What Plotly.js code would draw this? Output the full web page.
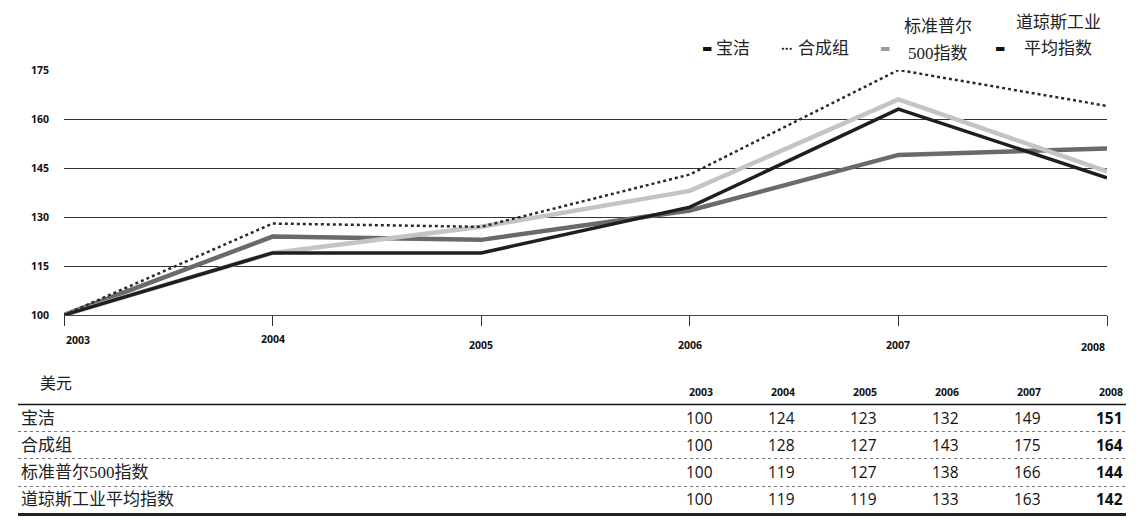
<!DOCTYPE html>
<html>
<head>
<meta charset="utf-8">
<script src="https://cdn.plot.ly/plotly-3.0.1.min.js"></script>
<style>
html,body{margin:0;padding:0;background:#fff;}
#chart{width:1141px;height:529px;}
</style>
</head>
<body>
<div id="chart"></div>
<script>
// ---- data ----
const years = [2003, 2004, 2005, 2006, 2007, 2008];
const pg = [100, 124, 123, 132, 149, 151];
const composite = [100, 128, 127, 143, 175, 164];
const sp500 = [100, 119, 127, 138, 166, 144];
const dow = [100, 119, 119, 133, 163, 142];
const seriesNames = ['宝洁', '合成组', '标准普尔500指数', '道琼斯工业平均指数'];
const legendLines = [['宝洁'], ['合成组'], ['标准普尔', '500指数'], ['道琼斯工业', '平均指数']];
const yTicks = [100, 115, 130, 145, 160, 175];
const unitLabel = '美元';

// ---- layout helpers (pixel -> paper) ----
const W = 1141, H = 529;
const L = 64, R = 1107, T = 70, B = 315;
const px = x => (x - L) / (R - L);
const py = y => (B - y) / (B - T);

const CJK = '"Liberation Serif", "Noto Sans CJK SC", serif';
const NUM = '"Open Sans", "Noto Sans", sans-serif';

const styles = [
  {color: '#6a6a6a', width: 4.5, dash: 'solid'},
  {color: '#2a2a2a', width: 2.5, dash: 'dot'},
  {color: '#c4c4c4', width: 4.5, dash: 'solid'},
  {color: '#1e1e1e', width: 3.5, dash: 'solid'}
];
const seriesData = [pg, composite, sp500, dow];
const drawOrder = [0, 2, 3, 1];

const traces = drawOrder.map(i => ({
  type: 'scatter', mode: 'lines', x: years, y: seriesData[i], name: seriesNames[i],
  line: {color: styles[i].color, width: styles[i].width, dash: styles[i].dash},
  showlegend: false, hoverinfo: 'skip'
}));

const annotations = [];
const shapes = [];

// x tick labels (staggered as in reference)
const xLabelY = [340, 339, 345, 345, 345, 347];
years.forEach((yr, i) => {
  annotations.push({
    x: yr, xref: 'x', y: py(xLabelY[i]), yref: 'paper',
    text: '<b>' + yr + '</b>', showarrow: false,
    xanchor: i === 0 ? 'left' : (i === years.length - 1 ? 'right' : 'center'),
    yanchor: 'middle', font: {family: NUM, size: 10.5, color: '#111'}
  });
});

// legend (text annotations)
const legX = [700, 779, 878, 993];
const legSw = ['▬', '<b>•••</b>', '▬', '▬'];
const legSwColor = ['#111', '#111', '#999', '#111'];
const legSwSize = [11, 6, 11, 11];
legSw.forEach((s, i) => {
  annotations.push({
    x: px(legX[i]), xref: 'paper', y: py(48), yref: 'paper',
    text: s, showarrow: false, xanchor: 'left', yanchor: 'middle',
    font: {family: 'DejaVu Sans', size: legSwSize[i], color: legSwColor[i]}
  });
});
const legTextPos = [[[714, 48]], [[796, 48]], [[938, 26], [938, 53]], [[1058, 22], [1058, 48]]];
legendLines.forEach((lines, i) => {
  lines.forEach((t, j) => {
    annotations.push({
      x: px(legTextPos[i][j][0]), xref: 'paper', y: py(legTextPos[i][j][1]), yref: 'paper',
      text: t, showarrow: false, xanchor: lines.length > 1 ? 'center' : 'left', yanchor: 'middle',
      font: {family: CJK, size: 17, color: '#222'}
    });
  });
});

// table
annotations.push({
  x: px(38), xref: 'paper', y: py(383), yref: 'paper', text: unitLabel, showarrow: false,
  xanchor: 'left', yanchor: 'middle', font: {family: CJK, size: 16, color: '#222'}
});
const colRight = years.map((_, i) => 715 + 82 * i);
years.forEach((yr, i) => {
  annotations.push({
    x: px(colRight[i]), xref: 'paper', y: py(392), yref: 'paper', text: '<b>' + yr + '</b>',
    showarrow: false, xanchor: 'right', yanchor: 'middle',
    font: {family: NUM, size: 10.5, color: '#111'}
  });
});
const rowY = [418, 445, 472, 499];
seriesData.forEach((vals, r) => {
  annotations.push({
    x: px(19), xref: 'paper', y: py(rowY[r]), yref: 'paper', text: seriesNames[r],
    showarrow: false, xanchor: 'left', yanchor: 'middle',
    font: {family: CJK, size: 17, color: '#222'}
  });
  vals.forEach((v, c) => {
    const last = c === vals.length - 1;
    annotations.push({
      x: px(colRight[c]), xref: 'paper', y: py(rowY[r]), yref: 'paper',
      text: last ? '<b>' + v + '</b>' : String(v),
      showarrow: false, xanchor: 'right', yanchor: 'middle',
      font: {family: NUM, size: 15.5, color: '#111'}
    });
  });
});
// table rules
shapes.push({type: 'line', xref: 'paper', yref: 'paper', x0: px(18), x1: px(1126), y0: py(404.5), y1: py(404.5), line: {color: '#111', width: 1.5}});
[431.5, 458.5, 486.5].forEach(y => shapes.push({type: 'line', xref: 'paper', yref: 'paper', x0: px(18), x1: px(1126), y0: py(y), y1: py(y), line: {color: '#777', width: 1, dash: 'dot'}}));
shapes.push({type: 'line', xref: 'paper', yref: 'paper', x0: px(18), x1: px(1126), y0: py(514.5), y1: py(514.5), line: {color: '#222', width: 3}});

const layout = {
  width: W, height: H,
  margin: {l: L, r: W - R, t: T, b: H - B, pad: 0},
  paper_bgcolor: '#fff', plot_bgcolor: '#fff',
  showlegend: false,
  xaxis: {
    range: [2003, 2008], tickvals: years, showticklabels: false,
    ticks: 'outside', ticklen: 10, tickwidth: 1, tickcolor: '#333',
    showgrid: false, zeroline: false, showline: true, linecolor: '#444', linewidth: 1,
    fixedrange: true
  },
  yaxis: {
    range: [100, 175], tickvals: yTicks, ticktext: yTicks.map(v => '<b>' + v + '</b>'),
    showgrid: true, gridcolor: '#333', gridwidth: 1, zeroline: false, showline: false,
    ticks: '', ticklabelstandoff: 14,
    tickfont: {family: NUM, size: 10.5, color: '#111'}, fixedrange: true
  },
  annotations: annotations,
  shapes: shapes
};

Plotly.newPlot('chart', traces, layout, {displayModeBar: false, staticPlot: true});
</script>
</body>
</html>
